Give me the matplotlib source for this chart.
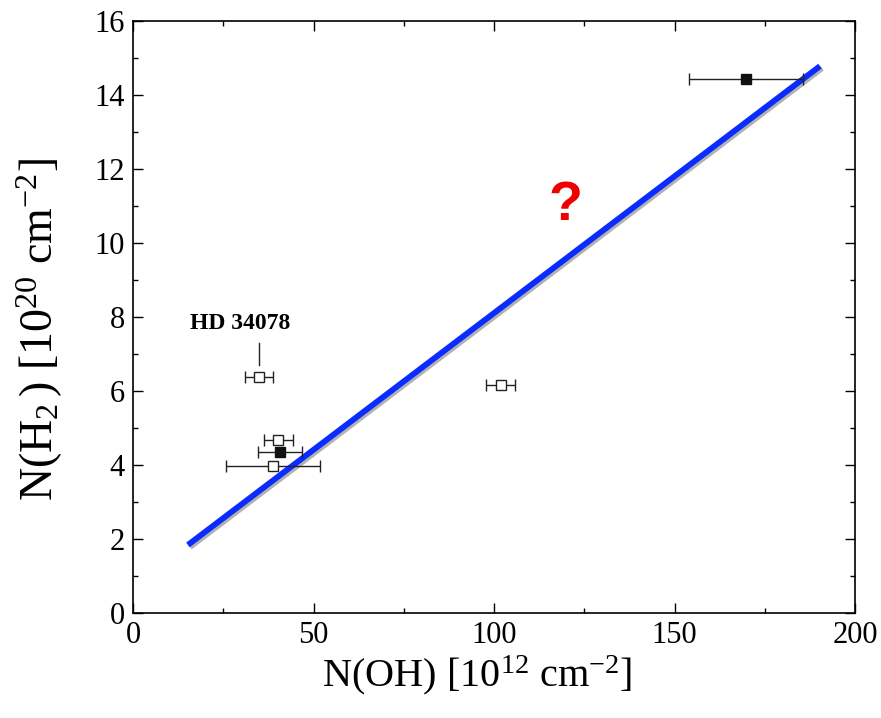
import matplotlib
matplotlib.use("Agg")
import matplotlib.pyplot as plt
import matplotlib.patheffects as pe
import numpy as np

plt.rcParams["font.family"] = ["Liberation Serif", "DejaVu Serif"]
plt.rcParams["mathtext.fontset"] = "custom"
plt.rcParams["mathtext.rm"] = "Liberation Serif"
plt.rcParams["mathtext.it"] = "Liberation Serif:italic"

# open squares
open_x = [34.9, 40.2, 38.8, 101.9]
open_y = [6.38, 4.68, 3.97, 6.16]
open_xerr = [4.0, 4.0, 13.0, 4.0]

# filled squares
fill_x = [40.7, 169.8]
fill_y = [4.35, 14.43]
fill_xerr = [6.0, 15.7]

# fitted line endpoints
line_x = [15.2, 190.3]
line_y = [1.84, 14.78]

fig = plt.figure(figsize=(8.81, 7.18), dpi=100)
ax = fig.add_axes([0.151, 0.1462, 0.8195, 0.8246])

ax.plot(line_x, line_y, color="#0a2cff", lw=4.2, solid_capstyle="butt", zorder=2,
        path_effects=[pe.SimpleLineShadow(offset=(1.5, -1.5), alpha=0.3, rho=0.5),
                      pe.Normal()])

ax.errorbar(open_x, open_y, xerr=open_xerr, fmt="s", ms=6.5, mfc="white", mec="#222222",
            mew=1.0, ecolor="#222222", elinewidth=1.0, capsize=4, capthick=1.0, zorder=3)
ax.errorbar(fill_x, fill_y, xerr=fill_xerr, fmt="s", ms=6.5, mfc="#111111", mec="#111111",
            ecolor="#222222", elinewidth=1.0, capsize=4, capthick=1.0, zorder=3)

# label for HD 34078 with a short leader line
ax.plot([34.9, 34.9], [6.70, 7.30], color="#222222", lw=1.0)
ax.text(29.6, 7.82, "HD 34078", ha="center", va="center", fontsize=17, fontweight="bold")

ax.text(119.7, 11.0, "?", color="#ee0000", fontsize=40, fontweight="bold",
        family="Liberation Sans", ha="center", va="center")

ax.set_xlim(0, 200)
ax.set_ylim(0, 16)
ax.set_xticks(np.arange(0, 201, 50))
ax.set_xticks(np.arange(0, 201, 25), minor=True)
ax.set_yticks(np.arange(0, 17, 2))
ax.set_yticks(np.arange(0, 17, 1), minor=True)
ax.tick_params(which="both", direction="in", top=True, right=True, labelsize=22, width=1.0)
ax.tick_params(which="major", length=7, pad=6)
ax.tick_params(which="minor", length=3.5)
for s in ax.spines.values():
    s.set_linewidth(1.2)

ax.set_xlabel(r"N(OH) [10$^{12}$ cm$^{-2}$]", fontsize=29)
ax.set_ylabel(r"N(H$_2\,$) [10$^{20}$ cm$^{-2}$]", fontsize=33)
ax.xaxis.set_label_coords(0.476, -0.068)
ax.yaxis.set_label_coords(-0.094, 0.478)

fig.savefig("out.png", dpi=100)
